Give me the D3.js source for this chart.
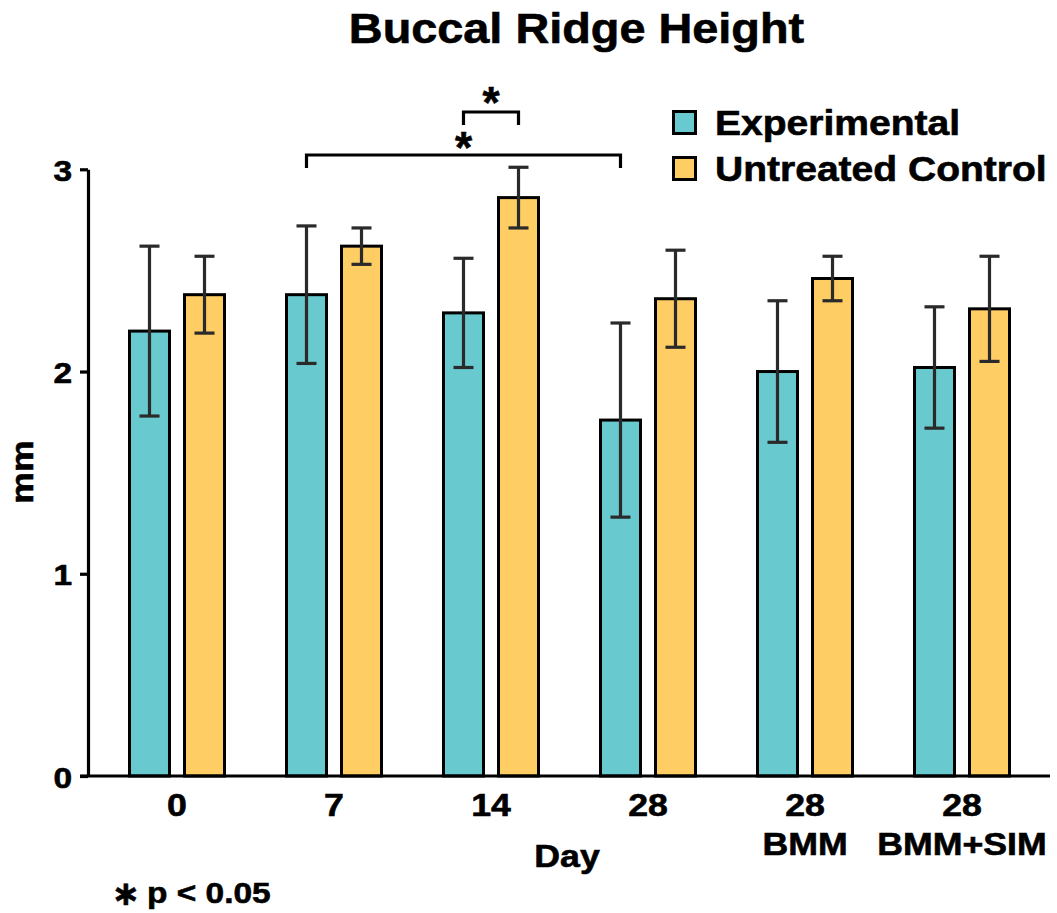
<!DOCTYPE html>
<html>
<head>
<meta charset="utf-8">
<script src="https://cdn.jsdelivr.net/npm/d3@7"></script>
<style>
  html, body { margin: 0; padding: 0; background: #fff; }
  svg { display: block; }
  text { font-family: "Liberation Sans", Arial, Helvetica, sans-serif; font-weight: bold; fill: #000; stroke: #000; stroke-width: 0.6px; }
</style>
</head>
<body>
<svg id="chart" width="1057" height="913"></svg>
<script>
// Buccal ridge height (mm), mean ± error, per time point / treatment
const categories = ["0", "7", "14", "28", "28 BMM", "28 BMM+SIM"];
const dayLabels = ["0", "7", "14", "28", "28", "28"];
const subLabels = ["", "", "", "", "BMM", "BMM+SIM"];
const seriesNames = ["Experimental", "Untreated Control"];

const experimentalMean = [2.20, 2.38, 2.29, 1.76, 2.00, 2.02];
const experimentalErr  = [0.42, 0.34, 0.27, 0.48, 0.35, 0.30];
const controlMean      = [2.38, 2.62, 2.86, 2.36, 2.46, 2.31];
const controlErr       = [0.19, 0.09, 0.15, 0.24, 0.11, 0.26];

const yTicks = [0, 1, 2, 3];

// significant pairwise comparisons (category, series)
const comparisons = [
  { from: ["7", "Experimental"],  to: ["28", "Experimental"],      label: "*" },
  { from: ["14", "Experimental"], to: ["14", "Untreated Control"], label: "*" }
];
const footnote = ["\u2217", "p < 0.05"];

const colors = { "Experimental": "#68C9CF", "Untreated Control": "#FECD63" };
const STRETCH = 1.115; // the lettering runs a little wider than Liberation Sans

const svg = d3.select("#chart");

const y = d3.scaleLinear().domain([0, 3]).range([776, 169.3]);
const x0 = d3.scaleBand().domain(categories).range([98.5, 1040.5]).paddingInner(0).paddingOuter(0);
const bw0 = x0.bandwidth();
const x1 = d3.scaleBand().domain(seriesNames)
  .range([bw0 / 2 - 47.5, bw0 / 2 + 47.5]).paddingInner(0.273).paddingOuter(0);

const rows = categories.map((c, i) => ({
  cat: c,
  values: [
    { series: "Experimental", mean: experimentalMean[i], err: experimentalErr[i] },
    { series: "Untreated Control", mean: controlMean[i], err: controlErr[i] }
  ]
}));

function stretch(sel) {
  sel.each(function () {
    const w = this.getComputedTextLength();
    d3.select(this).attr("textLength", w * STRETCH).attr("lengthAdjust", "spacingAndGlyphs");
  });
}

// title
svg.append("text")
  .attr("x", 576.5).attr("y", 43)
  .attr("text-anchor", "middle")
  .style("font-size", "42px")
  .text("Buccal Ridge Height")
  .call(stretch);

// bars
const groups = svg.append("g").selectAll("g").data(rows).join("g")
  .attr("transform", d => `translate(${x0(d.cat)},0)`);

groups.selectAll("rect").data(d => d.values).join("rect")
  .attr("x", d => x1(d.series))
  .attr("width", x1.bandwidth())
  .attr("y", d => y(d.mean))
  .attr("height", d => y(0) - y(d.mean))
  .attr("fill", d => colors[d.series])
  .attr("stroke", "#000")
  .attr("stroke-width", 3);

// error bars
const capW = 20;
const eb = groups.selectAll("g.err").data(d => d.values).join("g").attr("class", "err")
  .attr("stroke", "#2a2a2a").attr("stroke-width", 3.2).attr("fill", "none");
eb.append("line")
  .attr("x1", d => x1(d.series) + x1.bandwidth() / 2)
  .attr("x2", d => x1(d.series) + x1.bandwidth() / 2)
  .attr("y1", d => y(d.mean + d.err))
  .attr("y2", d => y(d.mean - d.err));
eb.selectAll("line.cap").data(d => [d.mean + d.err, d.mean - d.err].map(v => ({ v, s: d.series })))
  .join("line").attr("class", "cap")
  .attr("x1", d => x1(d.s) + x1.bandwidth() / 2 - capW / 2)
  .attr("x2", d => x1(d.s) + x1.bandwidth() / 2 + capW / 2)
  .attr("y1", d => y(d.v)).attr("y2", d => y(d.v));

// y axis
const yAxis = svg.append("g")
  .attr("transform", "translate(88,0)")
  .call(d3.axisLeft(y).tickValues(yTicks).tickFormat(d3.format("d")).tickSize(8).tickSizeOuter(0).tickPadding(8));
yAxis.select(".domain").attr("stroke", "#000").attr("stroke-width", 3.2);
yAxis.selectAll(".tick line").attr("stroke", "#000").attr("stroke-width", 3.2);
yAxis.selectAll(".tick text")
  .attr("fill", "#000")
  .attr("dy", null)
  .attr("y", 11)
  .style("font-size", "30px")
  .style("font-family", "'Liberation Sans', Arial, sans-serif")
  .call(stretch);

// x baseline
svg.append("line")
  .attr("x1", 80).attr("x2", 1050)
  .attr("y1", y(0)).attr("y2", y(0))
  .attr("stroke", "#000").attr("stroke-width", 3.2);

// x axis labels
const xAxis = svg.append("g")
  .attr("transform", `translate(0,${y(0)})`)
  .call(d3.axisBottom(x0).tickSize(0).tickFormat(() => ""));
xAxis.select(".domain").remove();
xAxis.selectAll(".tick").each(function (d, i) {
  const g = d3.select(this);
  g.select("text").remove();
  g.append("text").attr("text-anchor", "middle").attr("y", 40)
    .style("font-size", "32px").text(dayLabels[i]).call(stretch);
  if (subLabels[i]) {
    g.append("text").attr("text-anchor", "middle").attr("y", 79)
      .style("font-size", "32px").text(subLabels[i]).call(stretch);
  }
});

// axis titles
svg.append("text")
  .attr("x", 567).attr("y", 867)
  .attr("text-anchor", "middle")
  .style("font-size", "32px")
  .text("Day")
  .call(stretch);

svg.append("text")
  .attr("transform", "translate(33,472) rotate(-90)")
  .attr("text-anchor", "middle")
  .style("font-size", "32px")
  .text("mm")
  .call(stretch);

// legend
const legend = svg.append("g").attr("transform", "translate(672,110)");
const li = legend.selectAll("g").data(seriesNames).join("g")
  .attr("transform", (d, i) => `translate(0,${i * 46})`);
li.append("rect")
  .attr("x", 1.5).attr("y", 1.5).attr("width", 22).attr("height", 22)
  .attr("fill", d => colors[d]).attr("stroke", "#000").attr("stroke-width", 3);
li.append("text")
  .attr("x", 43).attr("y", 25)
  .style("font-size", "35px")
  .text(d => d)
  .call(stretch);

// significance brackets
function barCenter(ref) {
  return x0(ref[0]) + x1(ref[1]) + x1.bandwidth() / 2;
}
const bracketY = [155, 112];
const drop = 13;
const br = svg.append("g").selectAll("g").data(comparisons).join("g");
br.append("path")
  .attr("d", (d, i) => {
    const a = barCenter(d.from), b = barCenter(d.to), yy = bracketY[i];
    return `M${a},${yy + drop}V${yy}H${b}V${yy + drop}`;
  })
  .attr("fill", "none").attr("stroke", "#000").attr("stroke-width", 3.2);
br.append("text")
  .attr("x", d => (barCenter(d.from) + barCenter(d.to)) / 2)
  .attr("y", (d, i) => bracketY[i] + (i === 0 ? 8 : 6))
  .attr("text-anchor", "middle")
  .style("font-size", "44px")
  .text(d => d.label);

// footnote
svg.append("text")
  .attr("x", 126).attr("y", 905)
  .attr("text-anchor", "middle")
  .style("font-family", "'DejaVu Sans', sans-serif")
  .style("font-size", "34px")
  .text(footnote[0]);
svg.append("text")
  .attr("x", 147).attr("y", 903)
  .style("font-size", "30px")
  .text(footnote[1])
  .call(stretch);
</script>
</body>
</html>
